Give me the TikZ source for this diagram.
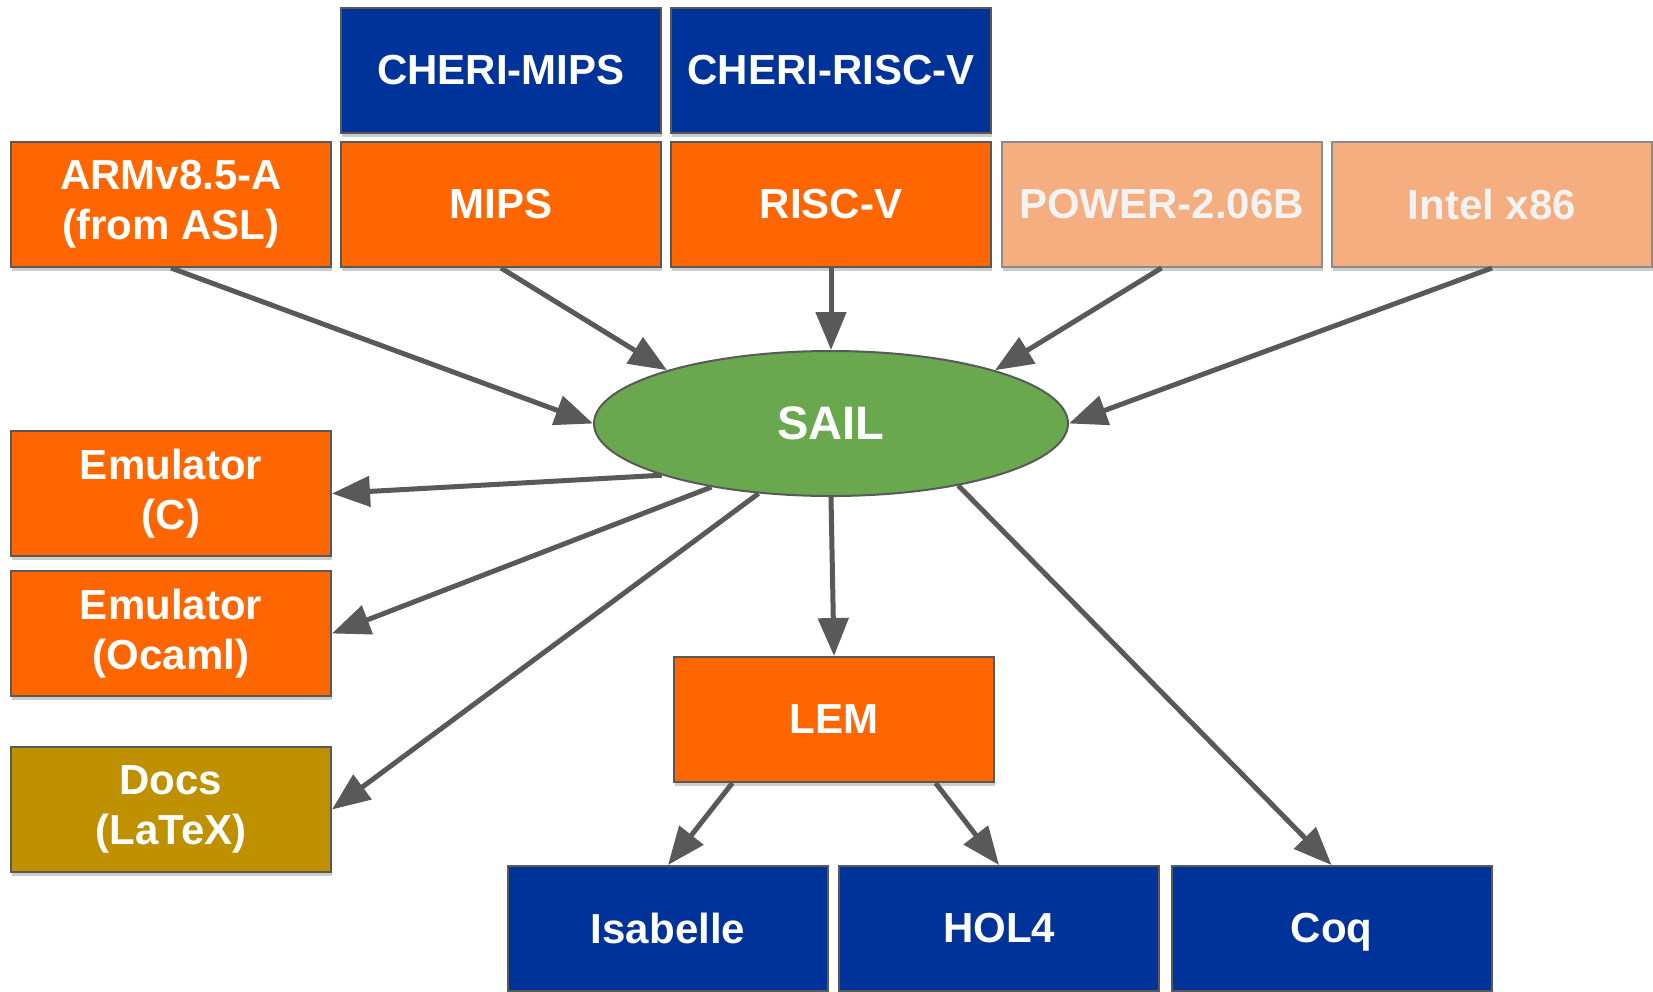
\documentclass[tikz,border=0pt]{standalone}
\usepackage{fontspec}
\setmainfont{Liberation Sans}
\usetikzlibrary{shapes.geometric, arrows.meta, shadows}

\definecolor{cheriblue}{HTML}{003399}
\definecolor{isaorange}{HTML}{FF6600}
\definecolor{paleorange}{HTML}{F5AE7F}
\definecolor{sailgreen}{HTML}{6AA84F}
\definecolor{docsgold}{HTML}{BF9000}
\definecolor{boxline}{HTML}{595959}
\definecolor{paletext}{HTML}{F3F3F3}

\begin{document}
\begin{tikzpicture}[
    x=1pt, y=-1pt,
    box/.style={rectangle, draw=boxline, line width=2pt, fill=isaorange, text=white,
        minimum width=320pt, minimum height=125pt, inner sep=0pt, align=center,
        font=\fontsize{42}{50}\selectfont\bfseries,
        drop shadow={shadow xshift=1pt, shadow yshift=-4pt, opacity=0.2, fill=black}},
    cheri/.style={box, fill=cheriblue},
    pale/.style={box, fill=paleorange, draw=boxline!70, text=paletext},
    prover/.style={box, fill=cheriblue},
    docbox/.style={box, fill=docsgold},
    sail/.style={ellipse, draw=boxline, line width=2pt, fill=sailgreen, text=white,
        minimum width=474pt, minimum height=145pt, inner sep=0pt,
        font=\fontsize{47}{56}\selectfont\bfseries},
    arrow/.style={-{Triangle[length=38pt, width=30pt]}, line width=5pt, draw=boxline}
]
\useasboundingbox (0,0) rectangle (1653,991);

% CHERI variants
\node[cheri] (cherimips) at (501, 70) {CHERI-MIPS};
\node[cheri] (cheririscv) at (831, 70) {CHERI-RISC-V};

% Source ISAs
\node[box] (arm) at (171, 204.5) {ARMv8.5-A\\(from ASL)};
\node[box] (mips) at (501, 204.5) {MIPS};
\node[box] (riscv) at (831, 204.5) {RISC-V};
\node[pale] (power) at (1161.5, 204.5) {POWER-2.06B};
\node[pale] (intel) at (1492, 204.5) {Intel x86};

% Sail itself
\node[sail] (sail) at (831, 423.5) {SAIL};

% Back ends
\node[box] (emuc) at (171, 493.5) {Emulator\\(C)};
\node[box] (emuocaml) at (171, 633.5) {Emulator\\(Ocaml)};
\node[docbox] (docs) at (171, 809.5) {Docs\\(LaTeX)};
\node[box] (lem) at (834, 719.5) {LEM};

% Provers
\node[prover] (isabelle) at (668, 928.5) {Isabelle};
\node[prover] (hol) at (999, 928.5) {HOL4};
\node[prover] (coq) at (1331.5, 928.5) {Co\smash{q}};

% Into Sail
\draw[arrow] (arm.south) -- (sail.west);
\draw[arrow] (mips.south) -- (sail.162);
\draw[arrow] (riscv.south) -- (sail.north);
\draw[arrow] (power.south) -- (sail.18);
\draw[arrow] (intel.south) -- (sail.east);

% Out of Sail
\draw[arrow] (sail.197) -- (emuc.east);
\draw[arrow] (sail.208) -- (emuocaml.east);
\draw[arrow] (sail.224) -- (docs.east);
\draw[arrow] (sail.south) -- (lem.north);
\draw[arrow] (sail.334) -- (coq.north);
\draw[arrow] (lem.212) -- (isabelle.north);
\draw[arrow] (lem.328) -- (hol.north);

\end{tikzpicture}
\end{document}
